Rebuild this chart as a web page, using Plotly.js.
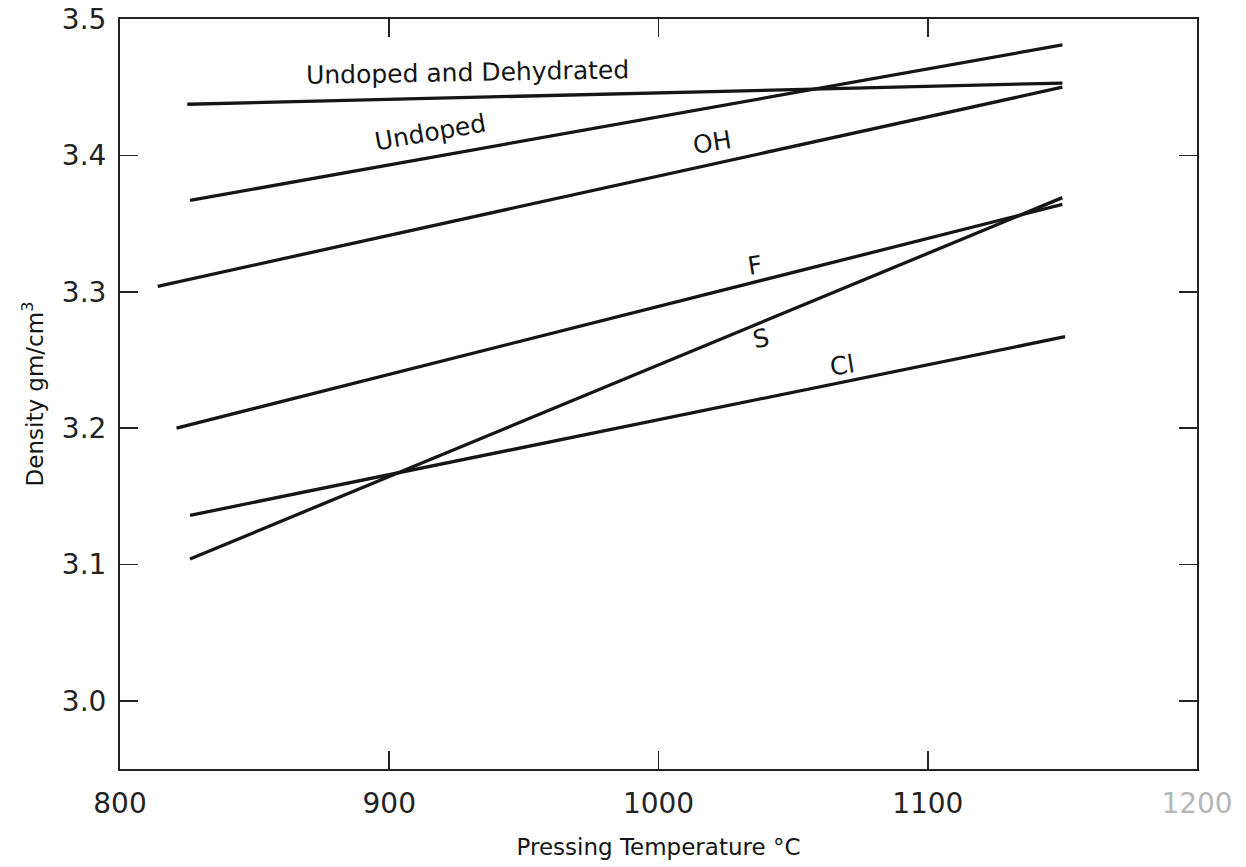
<!DOCTYPE html>
<html>
<head>
<meta charset="utf-8">
<script src="https://cdn.plot.ly/plotly-3.0.1.min.js"></script>
<style>
  html, body { margin: 0; padding: 0; background: #ffffff; }
  #chart { width: 1246px; height: 867px; }
</style>
</head>
<body>
<div id="chart"></div>
<script>
// ---- data ----
const seriesNames = ["Undoped and Dehydrated", "Undoped", "OH", "F", "S", "Cl"];
const tempStart = [825, 826, 814, 821, 826, 826];
const tempEnd = [1150, 1150, 1150, 1150, 1150, 1151];
const densityStart = [3.4375, 3.367, 3.304, 3.200, 3.104, 3.136];
const densityEnd = [3.453, 3.481, 3.450, 3.364, 3.369, 3.267];

const xTickVals = [800, 900, 1000, 1100, 1200];
const xTickText = ["800", "900", "1000", "1100", "1200"];
const yTickVals = [3.0, 3.1, 3.2, 3.3, 3.4, 3.5];
const yTickText = ["3.0", "3.1", "3.2", "3.3", "3.4", "3.5"];

// label placement (data coordinates) and angle for each curve label
const labelX = [929, 915, 1020, 1036, 1038, 1068];
const labelY = [3.4605, 3.417, 3.4096, 3.319, 3.266, 3.246];
const labelAngle = [-1, -10, -9, -9, -12, -9];

const ink = "#151515";
const fontFam = "DejaVu Sans, Liberation Sans, sans-serif";

const traces = seriesNames.map((name, i) => ({
  type: "scatter",
  mode: "lines",
  name: name,
  x: [tempStart[i], tempEnd[i]],
  y: [densityStart[i], densityEnd[i]],
  line: { color: ink, width: 3.3 },
  hoverinfo: "name"
}));

const annotations = seriesNames.map((name, i) => ({
  x: labelX[i], y: labelY[i], xref: "x", yref: "y",
  text: name, showarrow: false, textangle: labelAngle[i],
  font: { family: fontFam, size: 25, color: ink }
}));

const xTickLabels = xTickText.map((t, i) =>
  i === xTickText.length - 1 ? '<span style="color:#b5b5b5">' + t + '</span>' : t);

const axisCommon = {
  showline: true, linecolor: "#222", linewidth: 2, mirror: "ticks",
  ticks: "inside", ticklen: 18, tickwidth: 1.6, tickcolor: "#222",
  showgrid: false, zeroline: false,
  tickfont: { family: fontFam, size: 28, color: "#222" }
};

const layout = {
  width: 1246, height: 867,
  margin: { l: 120, r: 49, t: 19, b: 98 },
  paper_bgcolor: "#ffffff", plot_bgcolor: "#ffffff",
  showlegend: false,
  xaxis: Object.assign({}, axisCommon, {
    range: [800, 1200],
    tickmode: "array", tickvals: xTickVals, ticktext: xTickLabels,
    ticklabelstandoff: 8,
    title: { text: "Pressing Temperature °C", standoff: 20,
             font: { family: fontFam, size: 23, color: ink } }
  }),
  yaxis: Object.assign({}, axisCommon, {
    range: [2.95, 3.5],
    tickmode: "array", tickvals: yTickVals, ticktext: yTickText,
    ticklabelstandoff: 6,
    title: { text: "Density gm/cm<sup>3</sup>", standoff: 12,
             font: { family: fontFam, size: 23, color: ink } }
  }),
  annotations: annotations
};

Plotly.newPlot("chart", traces, layout, { staticPlot: true, displayModeBar: false });
</script>
</body>
</html>
